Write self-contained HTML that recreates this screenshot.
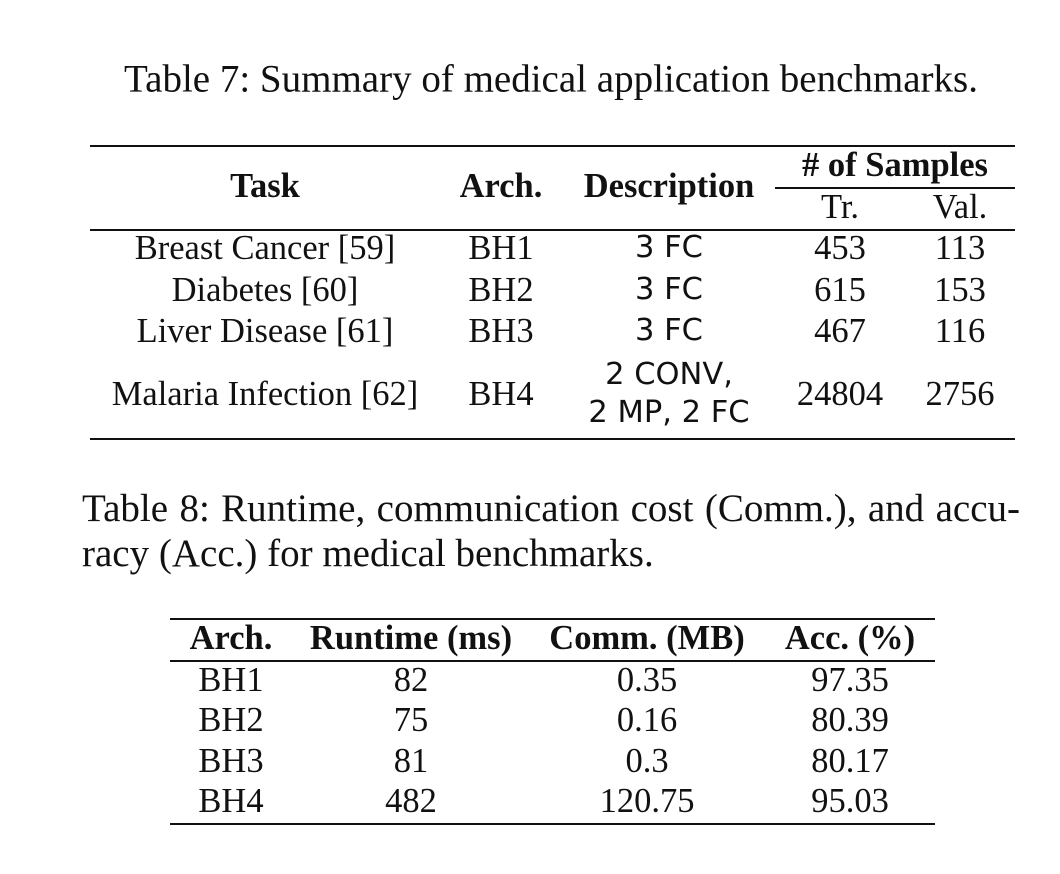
<!DOCTYPE html>
<html><head><meta charset="utf-8">
<style>
body{margin:0;background:#fff;}
#page{position:relative;width:1060px;height:874px;background:#fff;font-family:"Liberation Serif",serif;color:#111;font-size:34.5px;overflow:hidden;}
.t{position:absolute;transform:translate(-50%,-50%);white-space:nowrap;line-height:1;}
.b{font-weight:bold;}
.s{font-family:"DejaVu Sans","Liberation Sans",sans-serif;font-size:30.5px;}
.r{position:absolute;height:1.5px;background:#111;}
.cap{position:absolute;font-size:39px;line-height:45px;}
</style></head><body>
<div id="page">
<div class="t" style="left:551px;top:79px;font-size:39px">Table 7: Summary of medical application benchmarks.</div>

<div>
<div class="r" style="left:90px;width:925px;top:145px"></div>
<div class="t b" style="left:265px;top:186px">Task</div>
<div class="t b" style="left:501px;top:186px">Arch.</div>
<div class="t b" style="left:669px;top:186px">Description</div>
<div class="t b" style="left:895px;top:165px"># of Samples</div>
<div class="r" style="left:775px;width:240px;top:187px"></div>
<div class="t" style="left:840px;top:207px">Tr.</div>
<div class="t" style="left:960px;top:207px">Val.</div>
<div class="r" style="left:90px;width:925px;top:229px"></div>

<div class="t" style="left:265px;top:248px">Breast Cancer [59]</div>
<div class="t" style="left:501px;top:248px">BH1</div>
<div class="t s" style="left:669px;top:248px">3 FC</div>
<div class="t" style="left:840px;top:248px">453</div>
<div class="t" style="left:960px;top:248px">113</div>

<div class="t" style="left:265px;top:290px">Diabetes [60]</div>
<div class="t" style="left:501px;top:290px">BH2</div>
<div class="t s" style="left:669px;top:290px">3 FC</div>
<div class="t" style="left:840px;top:290px">615</div>
<div class="t" style="left:960px;top:290px">153</div>

<div class="t" style="left:265px;top:331px">Liver Disease [61]</div>
<div class="t" style="left:501px;top:331px">BH3</div>
<div class="t s" style="left:669px;top:331px">3 FC</div>
<div class="t" style="left:840px;top:331px">467</div>
<div class="t" style="left:960px;top:331px">116</div>

<div class="t" style="left:265px;top:394px">Malaria Infection [62]</div>
<div class="t" style="left:501px;top:394px">BH4</div>
<div class="t s" style="left:669px;top:375px">2 CONV,</div>
<div class="t s" style="left:669px;top:413px">2 MP, 2 FC</div>
<div class="t" style="left:840px;top:394px">24804</div>
<div class="t" style="left:960px;top:394px">2756</div>
<div class="r" style="left:90px;width:925px;top:438px"></div>
</div>

<div class="cap" style="left:82px;top:486px;width:938px;text-align:justify;text-align-last:justify;white-space:nowrap">Table 8: Runtime, communication cost (Comm.), and accu-</div>
<div class="cap" style="left:82px;top:531px;white-space:nowrap">racy (Acc.) for medical benchmarks.</div>

<div>
<div class="r" style="left:170px;width:765px;top:618px"></div>
<div class="t b" style="left:231px;top:638px">Arch.</div>
<div class="t b" style="left:411px;top:638px">Runtime (ms)</div>
<div class="t b" style="left:647px;top:638px">Comm. (MB)</div>
<div class="t b" style="left:850px;top:638px">Acc. (%)</div>
<div class="r" style="left:170px;width:765px;top:660px"></div>

<div class="t" style="left:231px;top:680px">BH1</div>
<div class="t" style="left:411px;top:680px">82</div>
<div class="t" style="left:647px;top:680px">0.35</div>
<div class="t" style="left:850px;top:680px">97.35</div>

<div class="t" style="left:231px;top:720px">BH2</div>
<div class="t" style="left:411px;top:720px">75</div>
<div class="t" style="left:647px;top:720px">0.16</div>
<div class="t" style="left:850px;top:720px">80.39</div>

<div class="t" style="left:231px;top:761px">BH3</div>
<div class="t" style="left:411px;top:761px">81</div>
<div class="t" style="left:647px;top:761px">0.3</div>
<div class="t" style="left:850px;top:761px">80.17</div>

<div class="t" style="left:231px;top:801px">BH4</div>
<div class="t" style="left:411px;top:801px">482</div>
<div class="t" style="left:647px;top:801px">120.75</div>
<div class="t" style="left:850px;top:801px">95.03</div>
<div class="r" style="left:170px;width:765px;top:823px"></div>
</div>
</div>
</body></html>
